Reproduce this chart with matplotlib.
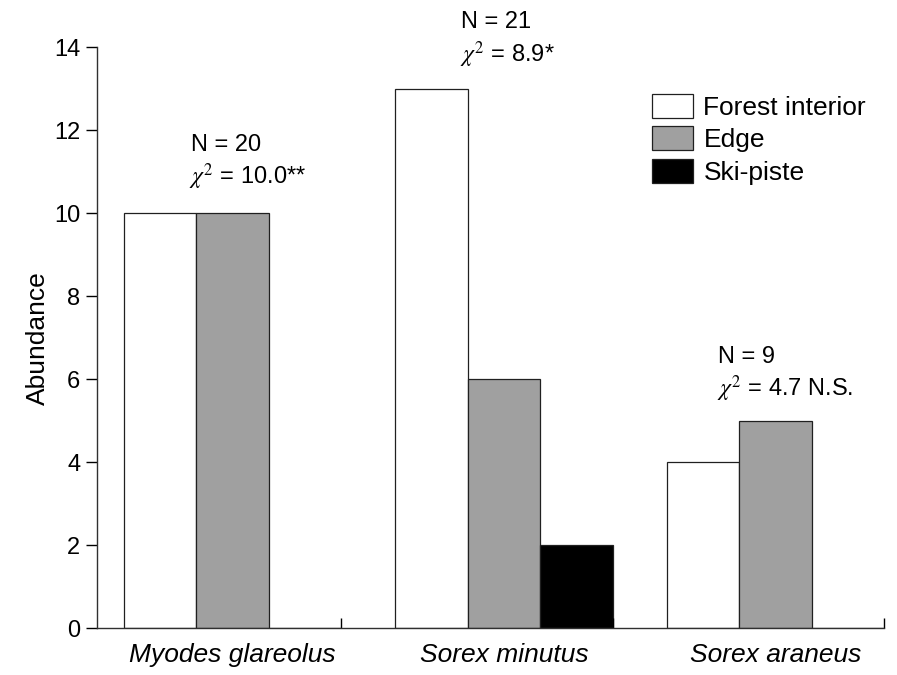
import numpy as np
import matplotlib
matplotlib.use("Agg")
import matplotlib.pyplot as plt

plt.rcParams['font.family'] = ['Liberation Sans', 'DejaVu Sans']
plt.rcParams['mathtext.fontset'] = 'stix'

species = ['Myodes glareolus', 'Sorex minutus', 'Sorex araneus']
habitats = ['Forest interior', 'Edge', 'Ski-piste']
forest = [10, 13, 4]
edge = [10, 6, 5]
ski = [0, 2, 0]
n_labels = ['N = 20', 'N = 21', 'N = 9']
chi_labels = [r'$\chi^2$ = 10.0**', r'$\chi^2$ = 8.9*', r'$\chi^2$ = 4.7 N.S.']

colors = ['white', '#a0a0a0', 'black']
w = 0.8 / 3

fig = plt.figure(figsize=(8.97, 6.75), dpi=100)
ax = fig.add_axes([0.108, 0.0696, 0.8775, 0.8604])

x = np.arange(len(species))
for k, vals in enumerate([forest, edge, ski]):
    ax.bar(x + (k - 1) * w, vals, w, color=colors[k], edgecolor='#202020',
           linewidth=0.9, label=habitats[k])

# annotation positions (data coords)
ann_x = [-0.155, -0.158, -0.21]
ann_y = [11.64, 14.6, 6.53]
for i in range(3):
    ax.text(x[i] + ann_x[i], ann_y[i], n_labels[i], fontsize=17,
            ha='left', va='center')
    ax.text(x[i] + ann_x[i] - 0.005, ann_y[i] - 0.77, chi_labels[i], fontsize=17,
            ha='left', va='center')

ax.set_xlim(-0.5, 2.4)
ax.set_ylim(0, 14)
ax.set_yticks(range(0, 15, 2))
ax.set_xticks(x)
ax.set_xticklabels(species, fontsize=19, style='italic')
ax.set_xticks([0.4, 1.4, 2.4], minor=True)
ax.tick_params(axis='x', which='major', length=0, pad=11)
ax.tick_params(axis='x', which='minor', direction='in', length=7, width=1)
ax.tick_params(axis='y', direction='out', length=8, width=1, labelsize=17, pad=4)
ax.set_ylabel('Abundance', fontsize=19, labelpad=3)

for s in ['top', 'right']:
    ax.spines[s].set_visible(False)
for s in ['left', 'bottom']:
    ax.spines[s].set_color('#303030')
    ax.spines[s].set_linewidth(1)

ax.legend(loc='upper left', bbox_to_anchor=(652 / 897, 1 - 94 / 675),
          bbox_transform=fig.transFigure, frameon=False, borderpad=0,
          borderaxespad=0, fontsize=19, handlelength=1.55, handleheight=1.0,
          handletextpad=0.4, labelspacing=0.25)

plt.savefig('out.png', dpi=100)
